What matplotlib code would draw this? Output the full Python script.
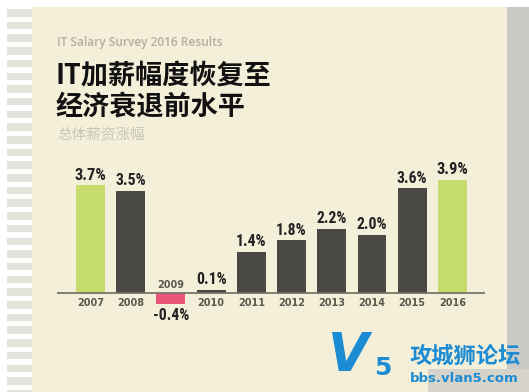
import matplotlib
matplotlib.use("Agg")
import matplotlib.pyplot as plt
from matplotlib.patches import Rectangle
from matplotlib import font_manager

plt.rcParams['font.family'] = ['Noto Sans CJK SC', 'DejaVu Sans']

# data
years = ["2007", "2008", "2009", "2010", "2011", "2012", "2013", "2014", "2015", "2016"]
raises = [3.7, 3.5, -0.4, 0.1, 1.4, 1.8, 2.2, 2.0, 3.6, 3.9]
highlight = ["2007", "2016"]

title_en = "IT Salary Survey 2016 Results"
title_cn = "IT加薪幅度恢复至\n经济衰退前水平"
subtitle = "总体薪资涨幅"

# colours
cream = "#f4efd9"
dark = "#4a4945"
green = "#c6dc6c"
pink = "#e95679"

# pick a narrow font for the value labels if there is one
narrow, narrow_size = "Roboto", 10
for cand in ["DejaVu Sans Condensed", "Liberation Sans Narrow", "Roboto Condensed"]:
    try:
        font_manager.findfont(cand, fallback_to_default=False)
        narrow, narrow_size = cand, 11.3
        break
    except Exception:
        pass

W, H = 529, 392
fig = plt.figure(figsize=(W / 100, H / 100), dpi=100, facecolor="white")

# background in pixel coordinates
bg = fig.add_axes([0, 0, 1, 1])
bg.set_xlim(0, W)
bg.set_ylim(H, 0)
bg.axis("off")
bg.add_patch(Rectangle((32, 7), 475, H - 7, color=cream, lw=0))
bg.add_patch(Rectangle((507, 7), W - 507, H - 7, color="#c9c9c6", lw=0))
y = 9
while y < H:
    bg.add_patch(Rectangle((7, y), 25, 7.5, color="#e3e3dc", lw=0))
    y += 12.7

bg.text(57, 42, title_en, fontsize=8.6, color="#b3ae9e", fontweight="semibold",
        family=["Open Sans", "DejaVu Sans"], va="center", ha="left")
bg.text(55, 92, title_cn, fontsize=19.5, color="#111111", fontweight="bold",
        va="center", ha="left", linespacing=1.12)
bg.text(57, 134.5, subtitle, fontsize=10.5, color="#c9c5b8", va="center", ha="left")

# watermark
blue = "#1b8bd3"
bg.add_patch(Rectangle((428, 369), 101, 23, color="#d6d3ca", lw=0))
bg.text(328, 356, "V", fontsize=38, fontweight="bold", style="italic", color=blue,
        family="DejaVu Sans", va="center", ha="left")
bg.text(374, 368, "5", fontsize=18, fontweight="bold", color=blue,
        family="DejaVu Sans", va="center", ha="left")
bg.text(409, 356, "攻城狮论坛", fontsize=16, fontweight="bold", color=blue,
        va="center", ha="left")
bg.text(410, 378, "bbs.vlan5.com", fontsize=9.5, fontweight="bold", color=blue,
        family="DejaVu Sans", va="center", ha="left")

# chart axes: baseline at y=292.7 px, 29 px per percent, bars 40.2 px apart
ax = fig.add_axes([57 / W, (H - 321.7) / H, 428 / W, 159.5 / H])
ax.set_xlim(-0.833, 9.81)
ax.set_ylim(-1, 4.5)
ax.axis("off")

x = range(len(years))
colors = [green if yr in highlight else (pink if v < 0 else dark) for yr, v in zip(years, raises)]
ax.bar(x, raises, width=0.72, color=colors, zorder=2)
ax.axhline(0, color="#6e6c64", lw=1.2, zorder=3)

for i, (yr, v) in enumerate(zip(years, raises)):
    big = yr in highlight
    label = f"{v:.1f}%"
    if v >= 0:
        ax.annotate(label, (i, v), xytext=(0, 2), textcoords="offset points",
                    ha="center", va="bottom", fontsize=narrow_size + (0.6 if big else 0),
                    fontweight="heavy" if big else "bold", family=narrow, color="#222222")
        ax.annotate(yr, (i, 0), xytext=(0, -7.5), textcoords="offset points",
                    ha="center", va="center", fontsize=7, fontweight="bold",
                    family="DejaVu Sans", color="#5c5a50")
    else:
        ax.annotate(label, (i, v), xytext=(0, -2.5), textcoords="offset points",
                    ha="center", va="top", fontsize=narrow_size, fontweight="bold",
                    family=narrow, color="#222222", annotation_clip=False)
        ax.annotate(yr, (i, 0), xytext=(0, 5.5), textcoords="offset points",
                    ha="center", va="center", fontsize=7, fontweight="bold",
                    family="DejaVu Sans", color="#5c5a50")

fig.savefig("out.png", dpi=100, facecolor="white")
